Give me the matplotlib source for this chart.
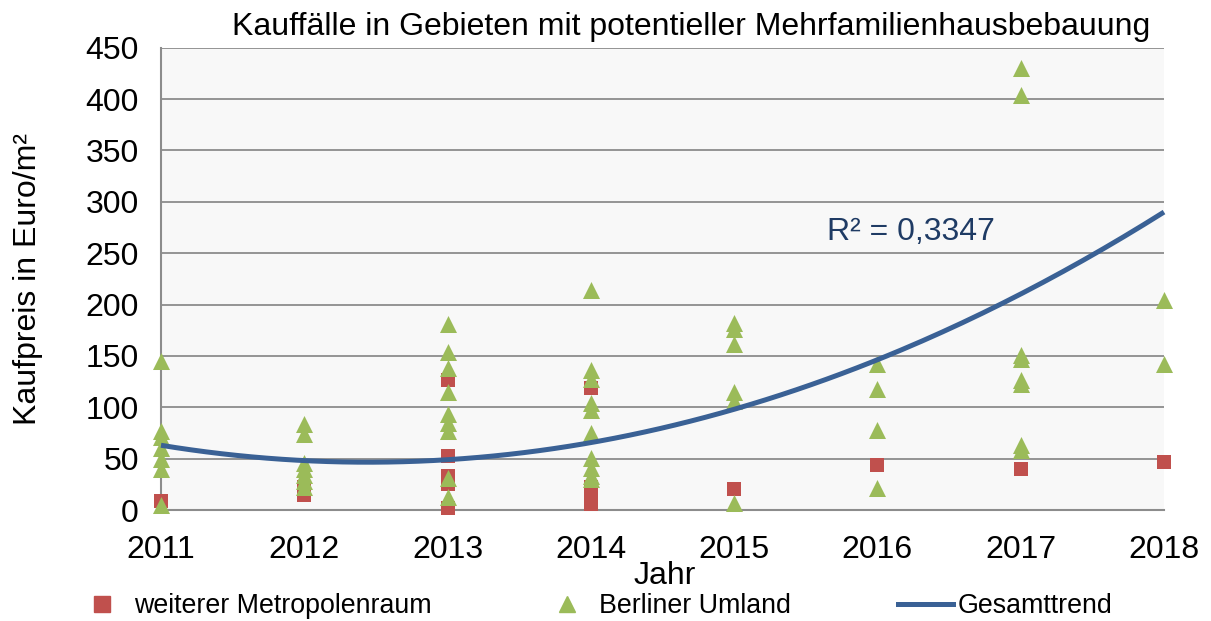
import numpy as np
import matplotlib
matplotlib.use("Agg")
import matplotlib.pyplot as plt
from matplotlib.lines import Line2D

plt.rcParams['font.family'] = ['Liberation Sans', 'DejaVu Sans']

# --- Data ---
metro_years = [2011, 2012, 2012, 2013, 2013, 2013, 2013, 2013,
               2014, 2014, 2014, 2014, 2015, 2016, 2017, 2018]
metro_prices = [9, 22, 15, 127, 53, 33, 25, 2,
                119, 22, 13, 6, 20, 44, 40, 47]

umland_years = ([2011] * 7 + [2012] * 7 + [2013] * 9 + [2014] * 10
                + [2015] * 6 + [2016] * 4 + [2017] * 8 + [2018] * 2)
umland_prices = [145, 77, 71, 60, 50, 40, 5,
                 84, 74, 46, 40, 34, 28, 22,
                 181, 154, 138, 115, 93, 85, 77, 31, 13,
                 214, 136, 128, 104, 97, 75, 51, 41, 30, 33,
                 182, 176, 162, 115, 106, 7,
                 142, 118, 78, 21,
                 430, 404, 151, 147, 127, 123, 63, 58,
                 204, 142]

# quadratic trend (t = year - 2011)
trend_coef = [7.89, -22.8, 63.0]
r2_label = "R² = 0,3347"
year_ticks = [2011, 2012, 2013, 2014, 2015, 2016, 2017, 2018]

RED = "#C0504D"
GREEN = "#9BBB59"
BLUE = "#3A6195"
GRID = "#8C8C8C"

fig = plt.figure(figsize=(12.11, 6.21), dpi=100)
ax = fig.add_axes([161 / 1211, 1 - 510 / 621, (1164 - 161) / 1211, (510 - 47.7) / 621])
ax.set_facecolor("#F8F8F8")

ax.scatter(metro_years, metro_prices, marker="s", s=115, color=RED,
           linewidths=0, zorder=3, clip_on=False)
ax.scatter(umland_years, umland_prices, marker="^", s=150, color=GREEN,
           linewidths=0, zorder=4, clip_on=False)

tx = np.linspace(2011, 2018, 200)
ax.plot(tx, np.polyval(trend_coef, tx - 2011), color=BLUE, lw=3.6,
        zorder=5, solid_capstyle="butt", clip_on=False)

ax.text(2015.65, 271, r2_label, color="#1F3B64", fontsize=23, va="center")

ax.set_xlim(2011, 2018)
ax.set_ylim(0, 450)
ax.set_xticks(year_ticks)
ax.set_xticklabels([str(y) for y in year_ticks])
ax.set_yticks(np.arange(0, 451, 50))
ax.yaxis.grid(True, color=GRID, lw=1.3)
ax.set_axisbelow(True)
ax.tick_params(length=0, labelsize=23)
ax.tick_params(axis="y", pad=16)
ax.tick_params(axis="x", pad=18)
for side in ["top", "right"]:
    ax.spines[side].set_visible(False)
for side in ["left", "bottom"]:
    ax.spines[side].set_color(GRID)
    ax.spines[side].set_linewidth(1.5)

fig.text(691 / 1211, 1 - 27 / 621, "Kauffälle in Gebieten mit potentieller Mehrfamilienhausbebauung",
         ha="center", va="center", fontsize=23)
fig.text(28 / 1211, 1 - 279 / 621, "Kaufpreis in Euro/m²", rotation=90,
         ha="center", va="center", fontsize=23)
fig.text(665 / 1211, 1 - 576 / 621, "Jahr", ha="center", va="center", fontsize=23)

handles = [
    Line2D([], [], marker="s", color=RED, ls="none", markersize=11),
    Line2D([], [], marker="^", color=GREEN, ls="none", markersize=12),
    Line2D([], [], color=BLUE, lw=3.6),
]
labels = ["weiterer Metropolenraum", "Berliner Umland", "Gesamttrend"]
fig.legend(handles, labels, ncol=3, loc="center left",
           bbox_to_anchor=(75 / 1211, 1 - 606 / 621), frameon=False,
           fontsize=19.3, handlelength=2.05, handletextpad=0.17,
           columnspacing=4.0, borderaxespad=0, borderpad=0)

fig.savefig("out.png", dpi=100)
